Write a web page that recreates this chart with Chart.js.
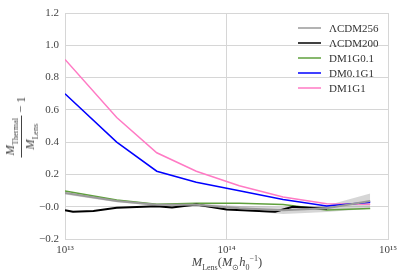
<!DOCTYPE html>
<html>
<head>
<meta charset="utf-8">
<script src="https://cdn.jsdelivr.net/npm/chart.js@4"></script>
<style>
  body { margin: 0; background: #fff; }
  #wrap { position: relative; width: 407px; height: 280px; }
  .lab { position: absolute; white-space: nowrap; font-family: "Liberation Serif", serif; color: #444; }
  #ylab { left: 21px; top: 127px; transform: translate(-50%, -50%) rotate(-90deg); display: flex; align-items: center; font-size: 12.5px; }
  .frac { display: inline-flex; flex-direction: column; align-items: center; font-style: italic; }
  .frac .num { border-bottom: 1px solid #444; padding: 0 2px 1px; }
  .frac .den { padding: 1px 2px 0; }
  sub, sup { font-style: normal; font-size: 8px; }
  #xlab { left: 227px; top: 263px; transform: translate(-50%, -50%); font-size: 12.5px; }
</style>
</head>
<body>
<div id="wrap">
  <canvas id="chart" width="407" height="280"></canvas>
  <div class="lab" id="ylab"><span class="frac"><span class="num">M<sub>Thermal</sub></span><span class="den">M<sub>Lens</sub></span></span><span>&nbsp;− 1</span></div>
  <div class="lab" id="xlab"><i>M</i><sub>Lens</sub>(<i>M</i><sub>⊙</sub><i>h</i><sub>0</sub><sup>−1</sup>)</div>
</div>
<script>
const masses = [1e13, 2.09e13, 3.7e13, 6.5e13, 1.2e14, 2.24e14, 4.17e14, 7.76e14];
const lcdm256 = [0.085, 0.035, 0.012, 0.012, -0.01, -0.022, -0.01, 0.035];
const lcdm256Low = [0.075, 0.027, 0.005, 0.002, -0.024, -0.045, -0.032, -0.012];
const lcdm256High = [0.093, 0.043, 0.019, 0.02, 0.004, -0.002, 0.008, 0.082];
const dm1g01 = [0.097, 0.042, 0.016, 0.022, 0.022, 0.013, -0.021, -0.011];
const dm01g1 = [0.70, 0.40, 0.22, 0.152, 0.099, 0.045, 0.004, 0.028];
const dm1g1 = [0.912, 0.553, 0.334, 0.22, 0.13, 0.06, 0.019, 0.016];

const massesBlack = [1e13, 1.12e13, 1.5e13, 2.09e13, 3.7e13, 4.6e13, 6.5e13, 1e14, 2.0e14, 2.57e14, 4.2e14];
const lcdm200 = [-0.022, -0.031, -0.027, -0.007, 0.003, -0.005, 0.013, -0.017, -0.031, 0.0, -0.012];

const xTicks = [1e13, 1e14, 1e15];
const xTickLabels = ["10¹³", "10¹⁴", "10¹⁵"];

function pts(xs, ys) {
  return xs.map((x, i) => ({ x: x, y: ys[i] }));
}

function lineSet(label, xs, ys, color, width) {
  return {
    label: label,
    data: pts(xs, ys),
    borderColor: color,
    backgroundColor: color,
    borderWidth: width,
    pointRadius: 0,
    fill: false,
    tension: 0,
    legend: true
  };
}

// legend drawn inside the plot, top right, no frame
const innerLegend = {
  id: "innerLegend",
  afterDatasetsDraw(chart) {
    const ctx = chart.ctx;
    const items = chart.data.datasets.filter(d => d.legend);
    ctx.save();
    ctx.font = "11px 'Liberation Serif', serif";
    ctx.textBaseline = "middle";
    ctx.textAlign = "left";
    items.forEach((d, i) => {
      const y = 28 + i * 15;
      ctx.strokeStyle = d.borderColor;
      ctx.lineWidth = 1.5;
      ctx.beginPath();
      ctx.moveTo(298, y);
      ctx.lineTo(321, y);
      ctx.stroke();
      ctx.fillStyle = "#333";
      ctx.fillText(d.label, 329, y + 1);
    });
    ctx.restore();
  }
};

new Chart(document.getElementById("chart"), {
  type: "line",
  data: {
    datasets: [
      lineSet("ΛCDM256", masses, lcdm256, "#9a9a9a", 2),
      lineSet("ΛCDM200", massesBlack, lcdm200, "#000000", 2),
      lineSet("DM1G0.1", masses, dm1g01, "#5fa03c", 1.5),
      lineSet("DM0.1G1", masses, dm01g1, "#0000ff", 1.5),
      lineSet("DM1G1", masses, dm1g1, "#ff7ac4", 1.5),
      {
        label: "upper",
        data: pts(masses, lcdm256High),
        borderWidth: 0,
        pointRadius: 0,
        fill: false
      },
      {
        label: "lower",
        data: pts(masses, lcdm256Low),
        borderWidth: 0,
        pointRadius: 0,
        backgroundColor: "rgba(130, 130, 130, 0.33)",
        fill: "-1"
      }
    ]
  },
  options: {
    responsive: false,
    animation: false,
    layout: { padding: { left: 0, right: 19, top: 13, bottom: 0 } },
    plugins: {
      legend: { display: false },
      tooltip: { enabled: false }
    },
    scales: {
      x: {
        type: "logarithmic",
        min: 1e13,
        max: 1e15,
        afterBuildTicks: s => { s.ticks = xTicks.map(v => ({ value: v })); },
        afterFit: s => { s.height = 41; },
        grid: { color: "#d6d6d6", lineWidth: 1, drawTicks: false },
        border: { color: "#d6d6d6" },
        ticks: {
          padding: 5,
          color: "#444",
          font: { family: "'Liberation Serif', serif", size: 11 },
          maxRotation: 0,
          callback: (v) => xTickLabels[xTicks.indexOf(v)]
        }
      },
      y: {
        min: -0.2,
        max: 1.2,
        afterFit: s => { s.width = 65; },
        grid: { color: "#d6d6d6", lineWidth: 1, drawTicks: false },
        border: { color: "#d6d6d6" },
        ticks: {
          stepSize: 0.2,
          padding: 6,
          color: "#444",
          font: { family: "'Liberation Serif', serif", size: 11 },
          callback: v => (v < 0 ? "−" : "") + Math.abs(v).toFixed(1)
        }
      }
    }
  },
  plugins: [innerLegend]
});
</script>
</body>
</html>
